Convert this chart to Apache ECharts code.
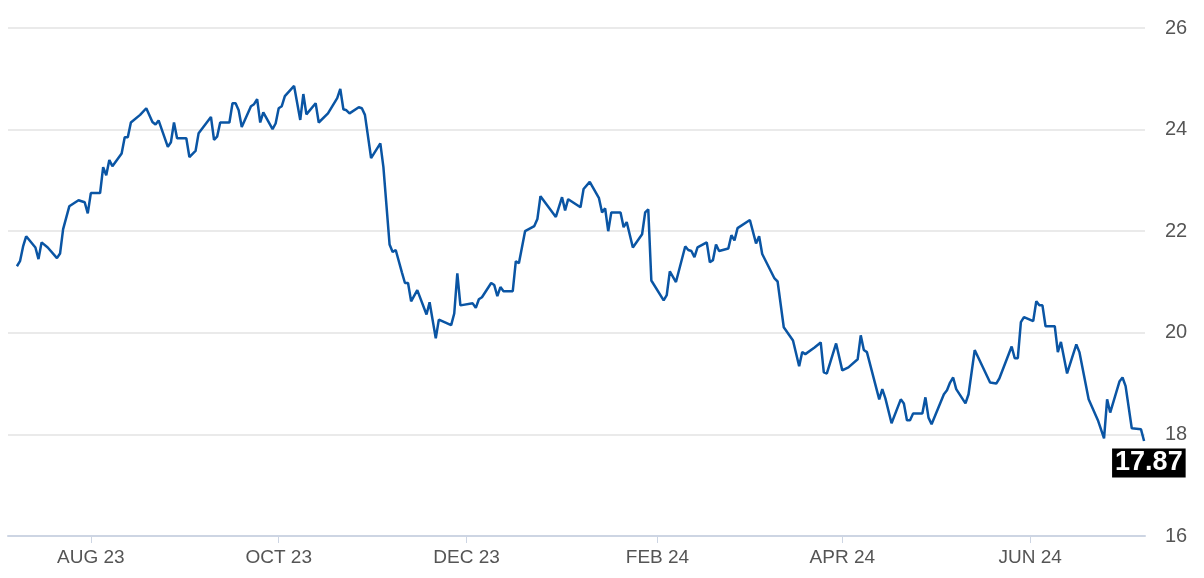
<!DOCTYPE html>
<html><head><meta charset="utf-8">
<script src="https://cdn.jsdelivr.net/npm/echarts@6/dist/echarts.min.js"></script>
<style>html,body{margin:0;padding:0;background:#fff}#c{width:1204px;height:578px}</style>
</head><body><div id="c"></div>
<script>
// days since 2023-08-01
const dayOffsets = [-24,-23,-22,-21,-18,-17,-16,-14,-11,-10,-9,-7,-4,-2,-1,0,3,4,5,6,7,10,11,12,13,16,18,20,21,22,25,26,27,28,31,32,34,35,39,40,41,42,45,46,47,48,49,52,53,54,55,56,59,60,61,62,63,66,68,69,70,73,74,77,80,81,82,83,84,87,88,89,91,94,95,
97,98,99,101,102,103,104,106,109,110,112,113,117,118,119,120,124,125,126,127,130,131,132,133,134,137,138,139,141,144,145,146,151,153,154,155,159,160,162,165,166,167,168,169,172,173,174,176,179,180,181,182,186,187,188,190,193,194,195,196,197,200,201,202,203,204,207,208,209,210,214,216,217,218,222,223,225,228,230,231,232,235,237,238,239,242,244,246,249,250,251,252,256,257,258,260,263,264,265,266,267,270,271,272,273,277,278,279,280,281,284,285,287,
292,294,295,299,300,301,302,303,306,307,308,309,310,313,314,315,317,320,321,324,327,329,330,331,334,335,336,338,341,342];
const prices = [21.31,21.41,21.70,21.90,21.68,21.45,21.78,21.68,21.47,21.56,22.04,22.49,22.61,22.57,22.35,22.75,22.75,23.26,23.10,23.40,23.28,23.53,23.85,23.85,24.14,24.29,24.42,24.15,24.10,24.18,23.66,23.75,24.14,23.83,23.83,23.46,23.58,23.93,24.25,23.80,23.86,24.14,24.14,24.52,24.52,24.38,24.05,24.46,24.50,24.60,24.14,24.34,24.01,24.12,24.42,24.46,24.66,24.86,24.19,24.70,24.30,24.52,24.14,24.32,24.62,24.80,24.40,24.38,24.32,24.44,24.42,24.29,23.44,23.73,23.26,
21.74,21.59,21.63,21.19,20.98,20.98,20.62,20.84,20.36,20.60,19.89,20.26,20.15,20.38,21.17,20.54,20.58,20.49,20.66,20.70,20.98,20.94,20.72,20.90,20.82,20.82,21.41,21.37,22.00,22.10,22.24,22.69,22.28,22.67,22.41,22.63,22.47,22.83,22.97,22.65,22.37,22.45,22.00,22.37,22.37,22.08,22.18,21.68,21.94,22.37,22.43,21.03,20.64,20.74,21.21,21.00,21.70,21.63,21.61,21.49,21.68,21.78,21.39,21.43,21.74,21.61,21.66,21.92,21.82,22.06,22.22,21.76,21.90,21.55,21.07,21.01,20.11,19.85,19.34,19.62,19.58,19.71,19.81,19.22,19.20,19.79,19.26,19.32,19.48,19.95,19.66,19.62,18.69,18.89,18.71,18.22,18.69,18.61,18.28,18.28,18.41,18.41,18.73,18.33,18.20,18.79,18.87,19.02,19.12,18.89,18.61,18.79,19.66,
19.02,19.00,19.10,19.73,19.50,19.50,20.21,20.31,20.23,20.62,20.54,20.54,20.13,20.13,19.62,19.82,19.20,19.77,19.62,18.69,18.28,17.92,18.69,18.43,19.04,19.12,18.95,18.12,18.10,17.87];
const tickDates = ['2023-08-01','2023-10-01','2023-12-01','2024-02-01','2024-04-01','2024-06-01'];
const tickLabels = ['AUG 23','OCT 23','DEC 23','FEB 24','APR 24','JUN 24'];
const yTicks = [16,18,20,22,24,26];

const DAY = 86400000;
const base = Date.UTC(2023,7,1);
const n = Math.min(dayOffsets.length, prices.length);
const seriesData = [];
for (let i=0;i<n;i++) seriesData.push([base + dayOffsets[i]*DAY, prices[i]]);
const tickTs = tickDates.map(s=>Date.parse(s+'T00:00:00Z'));

const chart = echarts.init(document.getElementById('c'));
chart.setOption({
  animation:false,
  grid:{left:8,right:59,top:28,bottom:42},
  xAxis:{type:'value', min: base - 26.9*DAY, max: base + 342.3*DAY,
    axisLine:{lineStyle:{color:'#cdd5e3',width:2}},
    axisTick:{show:true,customValues:tickTs,length:7,lineStyle:{color:'#cdd5e3'}},
    axisLabel:{customValues:tickTs,color:'#555',fontSize:19,fontFamily:'Liberation Sans',margin:12,
      formatter:(v)=>{const i=tickTs.indexOf(v);return i>=0?tickLabels[i]:'';}},
    splitLine:{show:false}},
  yAxis:{type:'value',position:'right',min:16,max:26,interval:2,
    axisLine:{show:false},axisTick:{show:false},
    axisLabel:{color:'#555',fontSize:20,fontFamily:'Liberation Sans',margin:20,align:'left',
      formatter:(v)=>yTicks.includes(v)?String(v):''},
    splitLine:{lineStyle:{color:'#e3e3e3',width:1.5}}},
  series:[{type:'line',data:seriesData,showSymbol:false,symbol:'none',
    lineStyle:{color:'#0a55a4',width:2.5},
    endLabel:{show:true,formatter:(p)=>p.value[1].toFixed(2),backgroundColor:'#000',color:'#fff',
      fontSize:27,fontWeight:'bold',fontFamily:'Liberation Sans',padding:[2,3,0,3],offset:[-32,22],distance:0}}]
});
</script></body></html>
